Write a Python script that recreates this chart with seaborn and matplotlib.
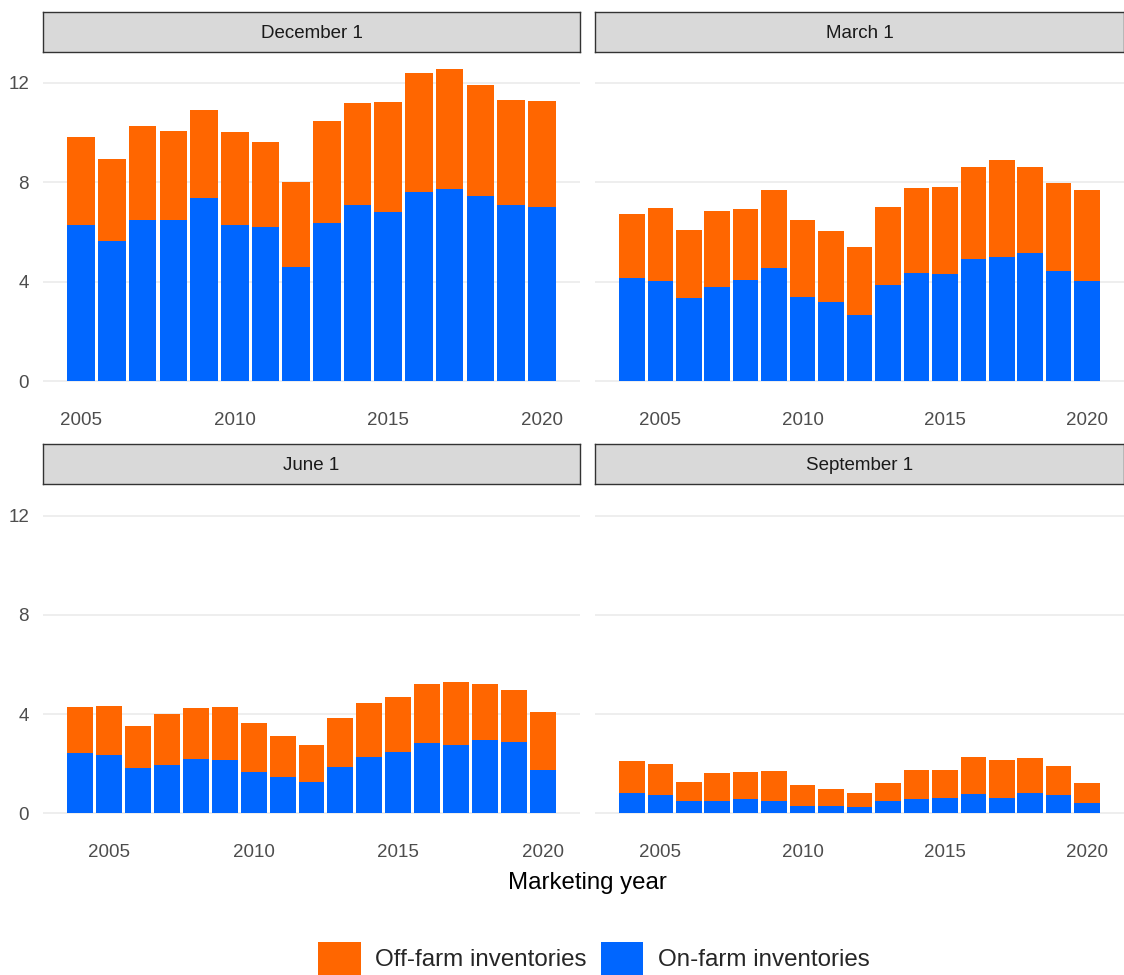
import numpy as np
import pandas as pd
import matplotlib
matplotlib.use("Agg")
import matplotlib.pyplot as plt
from matplotlib.patches import Patch
import seaborn as sns

sns.set_theme(style="white")
plt.rcParams['font.family'] = ['Liberation Sans', 'DejaVu Sans']

# ---------------- data ----------------
panels = ["December 1", "March 1", "June 1", "September 1"]
years_dec = list(range(2005, 2021))
years_other = list(range(2004, 2021))

on_dec = [6.30, 5.62, 6.50, 6.49, 7.38, 6.30, 6.18, 4.58, 6.38, 7.08, 6.82, 7.59, 7.72, 7.44, 7.09, 7.02]
off_dec = [3.51, 3.30, 3.76, 3.57, 3.50, 3.73, 3.44, 3.43, 4.07, 4.10, 4.39, 4.78, 4.83, 4.47, 4.21, 4.24]

on_mar = [4.15, 4.05, 3.33, 3.79, 4.09, 4.56, 3.38, 3.20, 2.68, 3.87, 4.37, 4.33, 4.92, 5.00, 5.14, 4.45, 4.05]
off_mar = [2.58, 2.92, 2.74, 3.06, 2.85, 3.13, 3.12, 2.82, 2.71, 3.14, 3.38, 3.48, 3.70, 3.88, 3.45, 3.50, 3.64]

on_jun = [2.45, 2.34, 1.83, 1.95, 2.19, 2.14, 1.67, 1.47, 1.27, 1.86, 2.27, 2.47, 2.82, 2.76, 2.94, 2.86, 1.73]
off_jun = [1.84, 1.99, 1.69, 2.06, 2.05, 2.15, 1.98, 1.66, 1.47, 1.97, 2.18, 2.23, 2.40, 2.52, 2.26, 2.13, 2.36]

on_sep = [0.83, 0.75, 0.48, 0.51, 0.59, 0.51, 0.31, 0.31, 0.27, 0.48, 0.59, 0.63, 0.79, 0.63, 0.82, 0.75, 0.40]
off_sep = [1.28, 1.22, 0.80, 1.12, 1.08, 1.19, 0.83, 0.67, 0.56, 0.76, 1.14, 1.10, 1.50, 1.51, 1.40, 1.16, 0.84]

series_labels = ["Off-farm inventories", "On-farm inventories"]
x_ticks = [2005, 2010, 2015, 2020]
y_ticks = [0, 4, 8, 12]
x_label = "Marketing year"

OFF_COLOR = "#FF6600"
ON_COLOR = "#0066FF"

panel_data = {
    "December 1": (years_dec, on_dec, off_dec),
    "March 1": (years_other, on_mar, off_mar),
    "June 1": (years_other, on_jun, off_jun),
    "September 1": (years_other, on_sep, off_sep),
}

# ---------------- layout ----------------
W, H = 1124, 975
fig = plt.figure(figsize=(W / 100, H / 100), dpi=100)

def fx(px):
    return px / W

def fy(px):
    return 1 - px / H

col_x = [(43, 580), (595, 1124)]
row_y = [(52, 397), (485, 829)]
strip_y = [(12, 52), (444, 484)]

ymin, ymax = -0.63, 13.23

for i, name in enumerate(panels):
    r, c = divmod(i, 2)
    x0, x1 = col_x[c]
    y0, y1 = row_y[r]
    ax = fig.add_axes([fx(x0), fy(y1), fx(x1 - x0), (y1 - y0) / H])
    years, on, off = panel_data[name]
    df = pd.DataFrame({"year": years, "on": on, "off": off})
    df["total"] = df["on"] + df["off"]
    sns.barplot(data=df, x="year", y="total", native_scale=True, color=OFF_COLOR,
                saturation=1, width=0.9, errorbar=None, linewidth=0, ax=ax)
    sns.barplot(data=df, x="year", y="on", native_scale=True, color=ON_COLOR,
                saturation=1, width=0.9, errorbar=None, linewidth=0, ax=ax)
    lo = min(years) - 0.45
    hi = max(years) + 0.45
    pad = (hi - lo) * 0.05
    ax.set_xlim(lo - pad, hi + pad)
    ax.set_ylim(ymin, ymax)
    ax.set_xticks(x_ticks)
    ax.set_xticklabels([str(t) for t in x_ticks])
    ax.set_yticks(y_ticks)
    if c == 0:
        ax.set_yticklabels([str(t) for t in y_ticks])
    else:
        ax.set_yticklabels([])
    ax.tick_params(axis="both", length=0, labelsize=13.5, colors="#4D4D4D")
    ax.tick_params(axis="x", pad=11)
    ax.tick_params(axis="y", pad=10)
    ax.set_xlabel("")
    ax.set_ylabel("")
    for s in ax.spines.values():
        s.set_visible(False)
    ax.set_facecolor("white")
    ax.grid(False)
    ax.yaxis.grid(True, color="#EBEBEB", linewidth=1.2)
    ax.set_axisbelow(True)

    # strip
    sy0, sy1 = strip_y[r]
    sax = fig.add_axes([fx(x0), fy(sy1), fx(x1 - x0), (sy1 - sy0) / H])
    sax.set_facecolor("#D9D9D9")
    sax.set_xticks([])
    sax.set_yticks([])
    for s in sax.spines.values():
        s.set_visible(True)
        s.set_color("#333333")
        s.set_linewidth(1.0)
    sax.text(0.5, 0.5, name, ha="center", va="center_baseline", fontsize=13.5,
             color="#1A1A1A", transform=sax.transAxes)

fig.text(fx(587), fy(880), x_label, ha="center", va="center_baseline", fontsize=17.3, color="black")

handles = [Patch(facecolor=OFF_COLOR, edgecolor="none"), Patch(facecolor=ON_COLOR, edgecolor="none")]
fig.legend(handles, series_labels, loc="lower center", bbox_to_anchor=(fx(594), 0.0),
           ncol=2, frameon=False, fontsize=17.4, handlelength=1.75, handleheight=1.75,
           handletextpad=0.6, columnspacing=0.6, borderpad=0, borderaxespad=0)

fig.savefig("out.png", dpi=100, facecolor="white")
